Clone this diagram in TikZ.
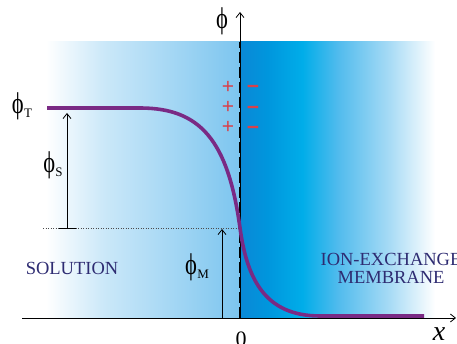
\documentclass[tikz,border=0pt]{standalone}
\usepackage{graphicx}
\usepackage{fontspec}
\setmainfont{Liberation Serif}
\setsansfont{Liberation Sans}
\usetikzlibrary{arrows.meta}
\definecolor{solR}{HTML}{7CC5EF}
\definecolor{mA}{HTML}{0A88D6}
\definecolor{mB}{HTML}{0096DD}
\definecolor{mC}{HTML}{00ADE9}
\definecolor{mD}{HTML}{50BBED}
\definecolor{mE}{HTML}{A5DAF5}
\definecolor{curvecol}{HTML}{7A2A84}
\definecolor{navy}{HTML}{2E2C72}
\definecolor{chg}{HTML}{D9414A}
\pgfdeclarehorizontalshading{membshade}{100bp}{color(0bp)=(mA); color(25bp)=(mA); color(32bp)=(mB); color(41bp)=(mC); color(50bp)=(mD); color(63bp)=(mE); color(75bp)=(white); color(100bp)=(white)}
\pgfdeclarehorizontalshading{solshade}{100bp}{color(0bp)=(white); color(25bp)=(white); color(40bp)=(solR!40); color(55bp)=(solR!65); color(75bp)=(solR); color(100bp)=(solR)}
\tikzset{
  axis/.style={line width=0.8pt, -{Straight Barb[length=5pt,width=8pt]}},
  meas/.style={line width=0.8pt, -{Straight Barb[length=5pt,width=8pt]}},
  curve/.style={line width=3.6pt, color=curvecol},
  lbl/.style={font=\fontsize{30}{32}\selectfont, inner sep=0pt},
  numlbl/.style={font=\fontsize{22}{24}\selectfont, inner sep=0pt},
  region/.style={font=\fontsize{18.5}{20}\selectfont, text=navy, inner sep=0pt, align=center},
  charge/.style={font=\sffamily\fontsize{21}{21}\selectfont, text=chg, inner sep=0pt},
}
\newcommand\myphi{\scalebox{0.75}[1]{ϕ}}
\newcommand\phisub[1]{\myphi\kern0.3pt\raisebox{-4pt}{\fontsize{13}{13}\selectfont #1}}
\begin{document}
\begin{tikzpicture}[x=1pt,y=-1pt]
\useasboundingbox (0,0) rectangle (457,344);
% backgrounds
\shade[shading=solshade] (46,42) rectangle (240,318);
\shade[shading=membshade] (240,42) rectangle (435,318);
% coordinates
\coordinate (xs) at (22,318);
\coordinate (xe) at (456,318);
\coordinate (yb) at (240,318);
\coordinate (yt) at (240,12);
\coordinate (dtop) at (240,42);
\coordinate (dl) at (43,228);
\coordinate (dr) at (240,228);
\coordinate (sb) at (67,228);
\coordinate (st) at (67,113);
\coordinate (sbl) at (59,228);
\coordinate (sbr) at (76,228);
\coordinate (mb) at (222,318);
\coordinate (mt) at (222,229);
% dotted reference line
\draw[line width=0.5pt, dotted, black!70] (dl) -- (dr);
% axes
\draw[axis] (xs) -- (xe);
\draw[axis] (yb) -- (yt);
% membrane boundary
\draw[line width=2.8pt, dash pattern=on 11pt off 4pt] (yb) -- (dtop);
% measurements
\draw[meas] (sb) -- (st);
\draw[line width=0.8pt] (sbl) -- (sbr);
\draw[meas] (mb) -- (mt);
% potential curve
\draw[curve] (47,108) -- (140,108) .. controls (200,108) and (228,140) .. (240,228)
  .. controls (247,279) and (265,316) .. (320,316) -- (424,316);
% charges
\node[charge] (p1) at (228,87) {+};
\node[charge] (p2) at (228,107) {+};
\node[charge] (p3) at (228,127) {+};
\node[charge] (n1) at (253,89) {\bfseries −};
\node[charge] (n2) at (253,110) {\bfseries −};
\node[charge] (n3) at (253,130) {\bfseries −};
% labels
\node[lbl] (phi) at (222,21) {\myphi};
\node[lbl] (phiT) at (22,106) {\phisub{T}};
\node[lbl] (phiS) at (53,165) {\phisub{S}};
\node[lbl] (phiM) at (197,267) {\phisub{M}};
\node[numlbl] (zero) at (241,339) {0};
\node[lbl, font=\fontsize{28}{30}\selectfont] (xl) at (439,334) {\itshape x};
\node[region] (sol) at (72,268) {SOLUTION};
\node[region] (mem) at (391,268) {ION-EXCHANGE\\[-2pt]MEMBRANE};
\end{tikzpicture}
\end{document}
